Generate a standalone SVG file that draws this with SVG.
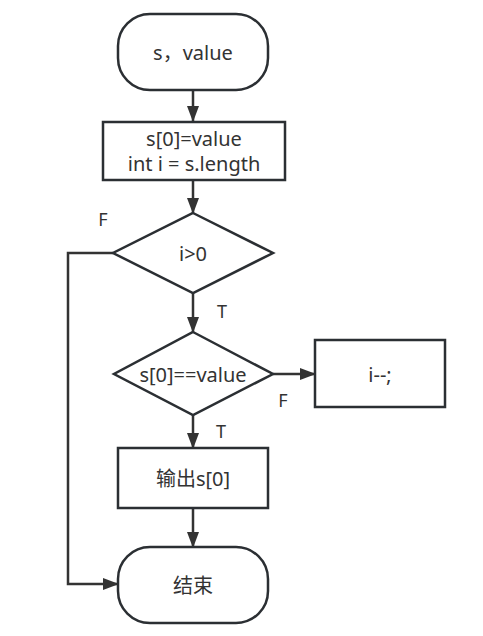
<svg xmlns="http://www.w3.org/2000/svg" width="483" height="636" viewBox="0 0 483 636">
<style>
.s{fill:#fff;stroke:#2b2f33;stroke-width:2.5}
.t{font-family:"Noto Sans","Noto Sans CJK SC",sans-serif;font-size:20px;fill:#333;text-anchor:middle;dominant-baseline:central}
.l{font-family:"Noto Sans","Noto Sans CJK SC",sans-serif;font-size:18px;fill:#333;text-anchor:middle;dominant-baseline:central}
.c{fill:none;stroke:#333;stroke-width:2.5}
</style>
<defs>
<marker id="a" viewBox="0 0 16 12" refX="15" refY="6" markerWidth="16" markerHeight="12" markerUnits="userSpaceOnUse" orient="auto">
<path d="M0,0L16,6L0,12z" fill="#333"/>
</marker>
</defs>
<g id="connectors">
<path class="c" d="M193,90V121" marker-end="url(#a)"/>
<path class="c" d="M193,180V213" marker-end="url(#a)"/>
<path class="c" d="M193,293V332" marker-end="url(#a)"/>
<path class="c" d="M273,374H315" marker-end="url(#a)"/>
<path class="c" d="M193,415V448" marker-end="url(#a)"/>
<path class="c" d="M193,508V547" marker-end="url(#a)"/>
<path class="c" d="M113,253H68V584H118" marker-end="url(#a)"/>
<text class="l" x="103" y="219">F</text>
<text class="l" x="222" y="311">T</text>
<text class="l" x="283" y="400">F</text>
<text class="l" x="221" y="431">T</text>
</g>
<g id="start">
<rect class="s" x="118" y="14" width="150" height="76" rx="32"/>
<text class="t" x="193" y="52">s，value</text>
</g>
<g id="init">
<rect class="s" x="103" y="122" width="182" height="58"/>
<text class="t" x="194" y="138">s[0]=value</text>
<text class="t" x="194" y="163">int i = s.length</text>
</g>
<g id="cond1">
<polygon class="s" points="193,213 273,253 193,293 113,253"/>
<text class="t" x="193" y="253">i&gt;0</text>
</g>
<g id="cond2">
<polygon class="s" points="193,332 273,374 193,415 114,374"/>
<text class="t" x="193" y="374">s[0]==value</text>
</g>
<g id="dec">
<rect class="s" x="315" y="340" width="130" height="67"/>
<text class="t" x="380" y="374">i--;</text>
</g>
<g id="out">
<rect class="s" x="118" y="448" width="150" height="60"/>
<text class="t" x="193" y="478">输出s[0]</text>
</g>
<g id="end">
<rect class="s" x="118" y="547" width="150" height="76" rx="32"/>
<text class="t" x="193" y="585">结束</text>
</g>
</svg>
